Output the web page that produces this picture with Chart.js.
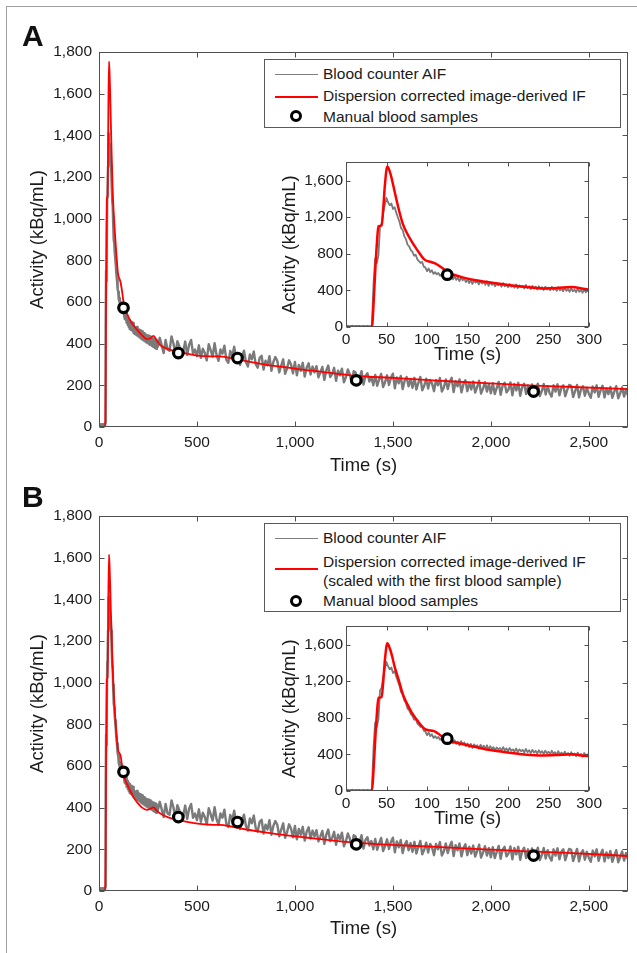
<!DOCTYPE html>
<html>
<head>
<meta charset="utf-8">
<script src="https://cdn.jsdelivr.net/npm/chart.js@4.4.1/dist/chart.umd.min.js"></script>
<style>
  html, body { margin: 0; padding: 0; background: #fff; }
  #page { position: relative; width: 637px; height: 953px; overflow: hidden; font-family: "Liberation Sans", Arial, sans-serif; color: #1a1a1a; }
  .frame { position: absolute; left: 6px; top: 6px; width: 700px; height: 1000px; border-top: 1.5px solid #a0a0a0; border-left: 1.5px solid #a0a0a0; }
  canvas { position: absolute; }
  .tag { position: absolute; left: 22px; font-weight: bold; font-size: 30px; line-height: 30px; color: #111; }
  .legend { position: absolute; left: 264px; width: 357px; background: #fff; border: 1px solid #5a5a5a; box-sizing: border-box; font-size: 15.5px; }
  .legend .row { position: absolute; left: 58px; white-space: nowrap; line-height: 18px; }
  .legend .swatch { position: absolute; left: 10px; width: 43px; height: 0; }
  .legend .dot { position: absolute; left: 25px; width: 6px; height: 6px; border: 3px solid #000; border-radius: 50%; background: #fff; }
</style>
</head>
<body>
<div id="page">
  <div class="frame"></div>

  <canvas id="mainA" width="637" height="477" style="left:0;top:0"></canvas>
  <canvas id="insetA" width="335" height="222" style="left:270px;top:150px"></canvas>
  <div class="tag" style="top:21px">A</div>
  <div class="legend" style="top:59px;height:69px">
    <div class="swatch" style="top:14px;border-top:1.5px solid #808080"></div>
    <div class="row" style="top:5px">Blood counter AIF</div>
    <div class="swatch" style="top:36px;border-top:2px solid #ff0000"></div>
    <div class="row" style="top:27px">Dispersion corrected image-derived IF</div>
    <div class="dot" style="top:50px"></div>
    <div class="row" style="top:48px">Manual blood samples</div>
  </div>

  <canvas id="mainB" width="637" height="470" style="left:0;top:470px"></canvas>
  <canvas id="insetB" width="335" height="222" style="left:270px;top:614px"></canvas>
  <div class="tag" style="top:482px">B</div>
  <div class="legend" style="top:523px;height:89px">
    <div class="swatch" style="top:14px;border-top:1.5px solid #808080"></div>
    <div class="row" style="top:5px">Blood counter AIF</div>
    <div class="swatch" style="top:44px;border-top:2px solid #ff0000"></div>
    <div class="row" style="top:29px">Dispersion corrected image-derived IF</div>
    <div class="row" style="top:48px">(scaled with the first blood sample)</div>
    <div class="dot" style="top:71px"></div>
    <div class="row" style="top:68px">Manual blood samples</div>
  </div>
</div>

<script>
// blood counter AIF, 2 s sampling for the first 300 s
const aifEarlyStep = 2;
const aifEarly = [
  8, 12, 6, 10, 14, 7, 11, 9, 13, 6, 10, 12, 8, 11, 9, 7,
  20, 480, 750, 700, 780, 1100, 1130, 1250, 1340, 1410,
  1360, 1330, 1350, 1290, 1310, 1250, 1200, 1150, 1080, 1060,
  990, 960, 900, 880, 840, 820, 780, 790, 740, 720,
  700, 710, 660, 650, 610, 640, 600, 620, 580, 600,
  575, 590, 560, 575, 555, 570, 545, 565, 540, 560,
  520, 555, 515, 540, 500, 545, 510, 530, 490, 520,
  480, 515, 470, 510, 485, 500, 465, 505, 475, 495,
  460, 500, 450, 490, 460, 480, 445, 475, 455, 470,
  440, 480, 445, 465, 435, 470, 440, 455, 430, 465,
  425, 455, 435, 450, 420, 460, 425, 445, 415, 450,
  420, 440, 410, 445, 415, 435, 405, 440, 410, 430,
  400, 440, 405, 425, 395, 435, 400, 420, 390, 430,
  395, 415, 385, 425, 390, 410, 380, 420, 385, 405,
  375, 415, 380, 400, 385
];

// blood counter AIF, 10 s sampling from 310 s to 2700 s
const aifLateStart = 310;
const aifLateStep = 10;
const aifLate = [
  428, 392, 355, 418, 372, 366, 435, 401, 349, 412,
  388, 338, 362, 410, 346, 395, 418, 351, 372, 340,
  392, 332, 376, 355, 320, 398, 368, 338, 402, 345,
  318, 372, 352, 390, 322, 308, 365, 340, 385, 330,
  355, 298, 340, 366, 312, 290, 348, 325, 362, 302,
  285, 332, 342, 276, 318, 295, 340, 270, 312, 336,
  318, 262, 295, 325, 255, 282, 320, 300, 258, 312,
  248, 298, 270, 308, 242, 285, 306, 252, 290, 262,
  292, 238, 262, 288, 226, 270, 295, 240, 255, 284,
  222, 270, 248, 280, 215, 238, 276, 252, 212, 268,
  262, 210, 235, 268, 204, 245, 258, 218, 240, 200,
  250, 198, 228, 255, 192, 215, 248, 202, 236, 256,
  186, 238, 210, 245, 182, 222, 240, 195, 230, 188,
  236, 180, 212, 240, 176, 198, 232, 185, 226, 208,
  172, 226, 200, 235, 170, 190, 228, 182, 216, 236,
  168, 220, 195, 228, 166, 205, 224, 172, 212, 180,
  218, 165, 192, 222, 160, 184, 215, 170, 206, 162,
  210, 158, 188, 216, 155, 198, 212, 166, 180, 214,
  152, 206, 176, 212, 150, 192, 208, 158, 200, 170,
  204, 150, 182, 208, 148, 172, 206, 156, 196, 162,
  146, 200, 170, 205, 152, 188, 200, 148, 178, 202,
  198, 144, 172, 202, 142, 180, 196, 150, 188, 160,
  140, 194, 166, 200, 145, 176, 198, 142, 185, 158,
  192, 140, 170, 196, 138, 162, 190, 146, 182, 150
];

// dispersion corrected image-derived IF
const idifTimes = [
  0, 32, 34, 36, 38, 40, 44, 46, 48, 51, 54, 57, 60, 65, 70, 75, 81, 88, 97, 105,
  110, 118, 125, 135, 145, 160, 178, 200, 220, 243, 260, 278, 295, 311, 350, 404,
  450, 515, 570, 617, 660, 720, 800, 856, 950, 1026, 1128, 1304, 1520, 1700, 1970,
  2185, 2419, 2700
];
const idifA = [
  0, 0, 250, 600, 900, 1100, 1110, 1300, 1550, 1755, 1700, 1600, 1480, 1290, 1130, 1030, 935, 840, 736, 710,
  695, 650, 600, 565, 540, 510, 486, 460, 440, 422, 425, 437, 415, 394, 375, 361,
  352, 341, 339, 339, 333, 322, 308, 298, 287, 277, 266, 246, 235, 224, 211,
  200, 192, 182
];
const idifB = [
  0, 0, 230, 550, 830, 1018, 1025, 1200, 1430, 1615, 1560, 1470, 1360, 1215, 1060, 960, 860, 770, 679, 661,
  650, 600, 565, 530, 510, 480, 447, 420, 400, 389, 393, 401, 385, 373, 355, 341,
  332, 322, 318, 317, 312, 301, 288, 280, 268, 260, 249, 232, 220, 213, 200,
  190, 182, 168
];

// manual blood samples
const sampleTimes = [125, 405, 707, 1313, 2218];
const sampleValues = [572, 355, 331, 224, 170];

// axis ticks
const mainTimeTicks = [0, 500, 1000, 1500, 2000, 2500];
const mainActivityTicks = [0, 200, 400, 600, 800, 1000, 1200, 1400, 1600, 1800];
const insetTimeTicks = [0, 50, 100, 150, 200, 250, 300];
const insetActivityTicks = [0, 400, 800, 1200, 1600];

const FONT = '"Liberation Sans", Arial, sans-serif';
const fmt = (v) => Number(v).toLocaleString('en-US');

const aifPoints = [
  ...aifEarly.map((y, i) => ({ x: i * aifEarlyStep, y })),
  ...aifLate.map((y, i) => ({ x: aifLateStart + i * aifLateStep, y }))
];
const samplePoints = sampleTimes.map((x, i) => ({ x, y: sampleValues[i] }));
const idifPoints = (vals) => idifTimes.map((x, i) => ({ x, y: vals[i] }));

// MATLAB-style box with inward ticks on all four sides
const boxFrame = {
  id: 'boxFrame',
  beforeDraw(chart) {
    const { ctx, chartArea: a } = chart;
    ctx.save();
    ctx.fillStyle = '#fff';
    ctx.fillRect(a.left, a.top, a.right - a.left, a.bottom - a.top);
    ctx.restore();
  },
  afterDraw(chart, args, opts) {
    const { ctx, chartArea: a, scales: { x, y } } = chart;
    const len = opts.tickLength || 5;
    const L = Math.round(a.left) + 0.5;
    const R = Math.round(a.right) - 0.5;
    const T = Math.round(a.top) + 0.5;
    const B = Math.round(a.bottom) - 0.5;
    ctx.save();
    ctx.strokeStyle = '#505050';
    ctx.lineWidth = 1;
    ctx.beginPath();
    x.ticks.forEach((t) => {
      const px = Math.round(x.getPixelForValue(t.value)) + 0.5;
      ctx.moveTo(px, B); ctx.lineTo(px, B - len);
      ctx.moveTo(px, T); ctx.lineTo(px, T + len);
    });
    y.ticks.forEach((t) => {
      const py = Math.round(y.getPixelForValue(t.value)) + 0.5;
      ctx.moveTo(L, py); ctx.lineTo(L + len, py);
      ctx.moveTo(R, py); ctx.lineTo(R - len, py);
    });
    ctx.stroke();
    ctx.strokeRect(L, T, R - L, B - T);
    ctx.restore();
  }
};

function makeChart(id, cfg) {
  const canvas = document.getElementById(id);
  const H = canvas.height;
  return new Chart(canvas.getContext('2d'), {
    type: 'line',
    data: {
      datasets: [
        {
          data: samplePoints,
          showLine: false,
          pointRadius: 4.8,
          pointBorderWidth: 3.2,
          pointBackgroundColor: '#fff',
          pointBorderColor: '#000',
          clip: 8
        },
        {
          data: idifPoints(cfg.idif),
          borderColor: '#ff0000',
          borderWidth: cfg.redWidth,
          pointRadius: 0,
          cubicInterpolationMode: 'monotone',
          clip: 0
        },
        {
          data: aifPoints,
          borderColor: '#7a7a7a',
          borderWidth: cfg.grayWidth,
          borderJoinStyle: 'round',
          pointRadius: 0,
          tension: 0,
          clip: 0
        }
      ]
    },
    options: {
      responsive: false,
      animation: false,
      events: [],
      layout: { padding: { left: 0, top: cfg.padTop, right: cfg.padRight, bottom: 0 } },
      plugins: {
        legend: { display: false },
        tooltip: { enabled: false },
        boxFrame: { tickLength: cfg.tickLength }
      },
      scales: {
        x: {
          type: 'linear',
          min: 0,
          max: cfg.xMax,
          afterBuildTicks: (s) => { s.ticks = cfg.xTicks.map((value) => ({ value })); },
          afterFit: (s) => { s.height = H - cfg.plotBottom; },
          grid: { display: false, drawTicks: false, tickLength: 0 },
          border: { display: false },
          ticks: {
            autoSkip: false, maxRotation: 0, padding: cfg.xTickPad,
            color: '#1a1a1a', font: { family: FONT, size: 15.5 },
            callback: fmt
          },
          title: {
            display: true, text: 'Time (s)', color: '#1a1a1a',
            font: { family: FONT, size: 18.5 },
            padding: { top: 0, bottom: cfg.xTitlePad }
          }
        },
        y: {
          type: 'linear',
          min: 0,
          max: 1800,
          afterBuildTicks: (s) => { s.ticks = cfg.yTicks.map((value) => ({ value })); },
          afterFit: (s) => { s.width = cfg.plotLeft; },
          grid: { display: false, drawTicks: false, tickLength: 0 },
          border: { display: false },
          ticks: {
            autoSkip: false, padding: cfg.yTickPad,
            color: '#1a1a1a', font: { family: FONT, size: 15.5 },
            callback: fmt
          },
          title: {
            display: true, text: 'Activity (kBq/mL)', color: '#1a1a1a',
            font: { family: FONT, size: 18.5 },
            padding: { top: cfg.yTitlePad, bottom: 0 }
          }
        }
      }
    },
    plugins: [boxFrame]
  });
}

const mainCfg = {
  xMax: 2700, xTicks: mainTimeTicks, yTicks: mainActivityTicks,
  plotLeft: 99, padRight: 9, tickLength: 5,
  xTickPad: 6, yTickPad: 7, xTitlePad: 0, yTitlePad: 27,
  grayWidth: 2.4, redWidth: 1.8
};
const insetCfg = {
  xMax: 300, xTicks: insetTimeTicks, yTicks: insetActivityTicks,
  plotLeft: 76, padRight: 10, padTop: 9, plotBottom: 177, tickLength: 4,
  xTickPad: 3, yTickPad: 3, xTitlePad: 6, yTitlePad: 9,
  grayWidth: 1.8, redWidth: 2.5
};

makeChart('mainA', { ...mainCfg, idif: idifA, padTop: 52, plotBottom: 427 });
makeChart('insetA', { ...insetCfg, idif: idifA });
makeChart('mainB', { ...mainCfg, idif: idifB, padTop: 46, plotBottom: 421 });
makeChart('insetB', { ...insetCfg, idif: idifB });
</script>
</body>
</html>
